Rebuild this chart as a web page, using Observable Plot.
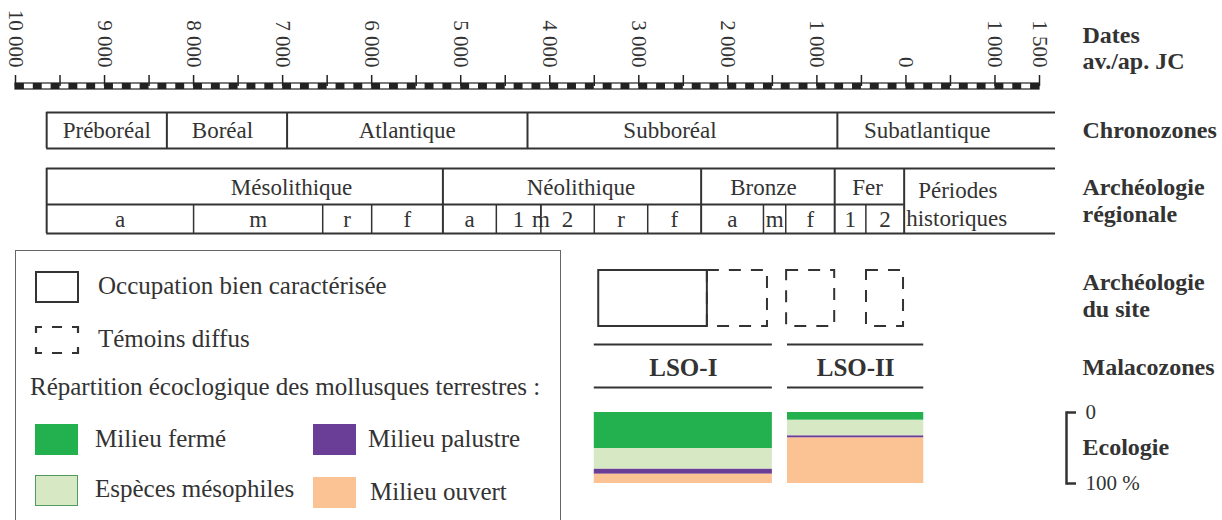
<!DOCTYPE html>
<html><head><meta charset="utf-8">
<script src="https://cdn.jsdelivr.net/npm/d3@7"></script>
<script src="https://cdn.jsdelivr.net/npm/@observablehq/plot@0.6"></script>
<style>
body{margin:0;background:#fff;}
#wrap{position:relative;width:1222px;height:520px;overflow:hidden;font-family:"Liberation Serif","Times New Roman",serif;color:#333;background:#fff;}
#wrap > svg{position:absolute;left:0;top:0;}
.lg{position:absolute;font-size:25px;line-height:25px;white-space:nowrap;}
.sw{position:absolute;box-sizing:border-box;}
.eco line,.eco path{stroke-width:2.5px;}
</style></head>
<body><div id="wrap"></div>
<script>
// ---------- data ----------
const tickLabelYears = [-10000,-9000,-8000,-7000,-6000,-5000,-4000,-3000,-2000,-1000,0,1000,1500];
const tickLabels = ["10 000","9 000","8 000","7 000","6 000","5 000","4 000","3 000","2 000","1 000","0","1 000","1 500"];

const chronoNames = ["Préboréal","Boréal","Atlantique","Subboréal","Subatlantique"];
const chronoStart = [-9650,-8300,-6950,-4250,-770];
const chronoLabelAt = [-8975,-7675,-5600,-2650,240];
const tableEnd = 1680;

const periodNames = ["Mésolithique","Néolithique","Bronze","Fer"];
const periodStart = [-9650,-5200,-2300,-800];
const periodLabelAt = [-6900,-3650,-1600,-430];
const historicStart = -20;

const phaseNames = ["a","m","r","f","a","1","2","r","f","a","m","f","1","2"];
const phaseStart = [-9650,-8000,-6550,-6000,-5200,-4600,-4100,-3500,-2900,-2300,-1600,-1350,-800,-450];
const neoMiddleAt = -4100;

const siteStart = [-3450,-2230,-1340,-443];
const siteEnd = [-2230,-1555,-800,-27];
const siteType = ["bien","diffus","diffus","diffus"];

const zoneNames = ["LSO-I","LSO-II"];
const zoneStart = [-3500,-1330];
const zoneEnd = [-1500,200];

const ecoCategories = ["Milieu fermé","Espèces mésophiles","Milieu palustre","Milieu ouvert"];
const ecoColors = ["#23b14f","#d7e8c4","#6a3d96","#fbc294"];
const milieuFerme = [51,11];
const especesMesophiles = [29,22];
const milieuPalustre = [7,3];
const milieuOuvert = [13,64];

// ---------- drawing ----------
const ink = "#333";
const X = {domain:[-10000,1500], range:[15,1039], axis:null};
const wrap = document.getElementById("wrap");

const phaseEnd = phaseStart.slice(1).concat(historicStart);
const phases = phaseNames.map((n,i)=>({n, mid:(phaseStart[i]+phaseEnd[i])/2}));
const subBounds = phaseStart.filter(d => !periodStart.includes(d));
const centuries = d3.range(-10000,1500,100).filter((d,i)=>i%2===0);
const zones = zoneNames.map((z,i)=>({z, s:zoneStart[i], e:zoneEnd[i], mid:(zoneStart[i]+zoneEnd[i])/2}));
const zoneLines = zones.flatMap(d => [{...d, y:344},{...d, y:387}]);
const site = siteStart.map((s,i)=>({s, e:siteEnd[i], t:siteType[i]}));

const rightLabels = [
  {t:"Dates",y:35},{t:"av./ap. JC",y:61},{t:"Chronozones",y:130},
  {t:"Archéologie",y:187},{t:"régionale",y:214},
  {t:"Archéologie",y:282},{t:"du site",y:309},{t:"Malacozones",y:367},{t:"Ecologie",y:447}
];

const main = Plot.plot({
  width:1222, height:520, marginLeft:15, marginRight:183, marginTop:0, marginBottom:0,
  x: X, y:{domain:[0,520], range:[0,520], axis:null},
  style:{fontFamily:"Liberation Serif, Times New Roman, serif", color:ink, background:"transparent", overflow:"visible"},
  marks:[
    // time scale bar
    Plot.rect(centuries, {x1:d=>d, x2:d=>d+100, y1:83, y2:89, fill:"#222"}),
    Plot.rect([0], {x1:-10000, x2:1500, y1:83, y2:89, fill:"none", stroke:"#222", strokeWidth:1.2}),
    Plot.ruleX(d3.range(-10000,1501,500), {y1:75, y2:86, stroke:"#222", strokeWidth:1.5}),
    Plot.text(tickLabelYears, {x:d=>d, y:67, text:(d,i)=>tickLabels[i], rotate:90, textAnchor:"end", fontSize:21, fill:ink}),
    // chronozones
    Plot.ruleY([112,148], {x1:chronoStart[0], x2:tableEnd, stroke:ink, strokeWidth:2}),
    Plot.ruleX(chronoStart, {y1:112, y2:148, stroke:ink, strokeWidth:2}),
    Plot.text(chronoNames, {x:(d,i)=>chronoLabelAt[i], y:130, fontSize:23, fill:ink}),
    // archéologie régionale
    Plot.ruleY([168,233], {x1:periodStart[0], x2:tableEnd, stroke:ink, strokeWidth:2}),
    Plot.ruleY([204], {x1:periodStart[0], x2:historicStart, stroke:ink, strokeWidth:2}),
    Plot.ruleX(periodStart.concat([historicStart]), {y1:168, y2:233, stroke:ink, strokeWidth:2}),
    Plot.ruleX(subBounds, {y1:204, y2:233, stroke:ink, strokeWidth:1.5}),
    Plot.ruleX([neoMiddleAt], {y1:204, y2:216, stroke:ink, strokeWidth:1.5}),
    Plot.text(periodNames, {x:(d,i)=>periodLabelAt[i], y:187, fontSize:23, fill:ink}),
    Plot.text(phases, {x:"mid", y:219, text:"n", fontSize:23, fill:ink}),
    Plot.text(["m"], {x:neoMiddleAt, y:219, fontSize:23, fill:ink}),
    Plot.text(["Périodes"], {x:historicStart, y:190, dx:14, textAnchor:"start", fontSize:23, fill:ink}),
    Plot.text(["historiques"], {x:historicStart, y:218, dx:2, textAnchor:"start", fontSize:23, fill:ink}),
    // archéologie du site
    Plot.rect(site.filter(d=>d.t==="diffus"), {x1:"s", x2:"e", y1:270, y2:326, fill:"none", stroke:ink, strokeWidth:2, strokeDasharray:"12,10"}),
    Plot.rect(site.filter(d=>d.t==="bien"), {x1:"s", x2:"e", y1:270, y2:326, fill:"none", stroke:ink, strokeWidth:2}),
    // malacozones
    Plot.ruleY(zoneLines, {y:"y", x1:"s", x2:"e", stroke:ink, strokeWidth:2}),
    Plot.text(zones, {x:"mid", y:367, text:"z", fontSize:25, fontWeight:"bold", fill:ink}),
    // right-hand labels
    Plot.text(rightLabels, {frameAnchor:"right", y:"y", text:"t", dx:43, textAnchor:"start", fontSize:24, fontWeight:"bold", fill:ink})
  ]
});
wrap.appendChild(main);

// ecology stacked bars (own y scale: 0 → 100 %, top to bottom)
const ecoValues = [milieuFerme, especesMesophiles, milieuPalustre, milieuOuvert];
const ecoRows = zones.flatMap((z,i) => {
  let acc = 0;
  return ecoCategories.map((c,j) => { const v = ecoValues[j][i]; const r = {c, s:z.s, e:z.e, y1:acc, y2:acc+v}; acc += v; return r; });
});
const eco = Plot.plot({
  width:1222, height:520, marginLeft:15, marginRight:156, marginTop:412, marginBottom:37,
  x: X,
  y:{domain:[0,100], reverse:true, axis:"right", ticks:[0,100], tickFormat:d=> d===0 ? "0" : "100 %", tickSize:9, tickPadding:10, line:true, label:null},
  color:{domain:ecoCategories, range:ecoColors},
  style:{fontFamily:"Liberation Serif, Times New Roman, serif", fontSize:"21px", color:ink, background:"transparent", overflow:"visible"},
  marks:[ Plot.rect(ecoRows, {x1:"s", x2:"e", y1:"y1", y2:"y2", fill:"c"}) ]
});
eco.classList.add("eco");
wrap.appendChild(eco);

// legend
function add(html){ wrap.insertAdjacentHTML("beforeend", html); }
add(`<div class="sw" style="left:15px;top:250px;width:546px;height:300px;border:1.5px solid #666;"></div>`);
add(`<div class="sw" style="left:35px;top:271px;width:44px;height:32px;border:2px solid #333;"></div>`);
add(`<svg style="position:absolute;left:33px;top:324px" width="48" height="32"><path d="M3,9V3H9 M19,3H29 M39,3H45V9 M3,23V29H9 M19,29H29 M39,29H45V23" fill="none" stroke="#333" stroke-width="2.2"/></svg>`);
const legendTexts = [
  {t:"Occupation bien caractérisée", x:98, y:287},
  {t:"Témoins diffus", x:98, y:340},
  {t:"Répartition écoclogique des mollusques terrestres :", x:30, y:388},
  {t:ecoCategories[0], x:95, y:440},
  {t:ecoCategories[2], x:368, y:440},
  {t:ecoCategories[1], x:95, y:490},
  {t:ecoCategories[3], x:370, y:493}
];
legendTexts.forEach(d => add(`<div class="lg" style="left:${d.x}px;top:${d.y-14}px">${d.t}</div>`));
const swatches = [[35,424,0],[313,424,2],[35,475,1],[313,477,3]];
swatches.forEach(([x,y,k]) => add(`<div class="sw" style="left:${x}px;top:${y}px;width:43px;height:31px;background:${ecoColors[k]};${k===1?"border:1.5px solid #4f9a5c;":""}"></div>`));
</script>
</body></html>
